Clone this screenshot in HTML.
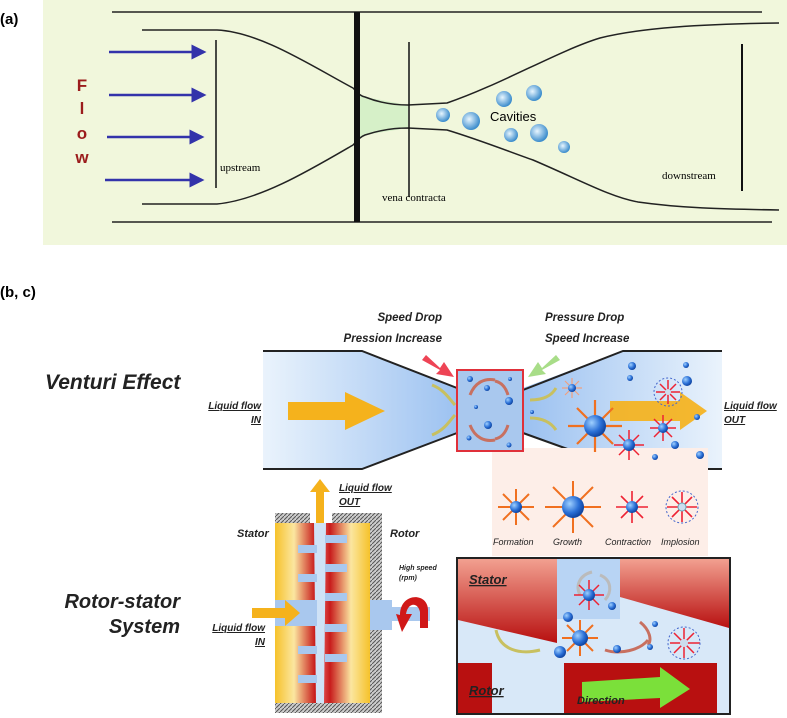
<!DOCTYPE html>
<html><head><meta charset="utf-8"><style>
body{margin:0;width:787px;height:718px;background:#fff;overflow:hidden}
svg{display:block}
text{font-family:"Liberation Sans",sans-serif}
</style></head><body>
<svg width="787" height="718" viewBox="0 0 787 718" xmlns="http://www.w3.org/2000/svg">
<defs>
<linearGradient id="pipe" x1="0" x2="1"><stop offset="0" stop-color="#eaf3fc"/><stop offset="0.45" stop-color="#98bff0"/><stop offset="0.55" stop-color="#98bff0"/><stop offset="1" stop-color="#eaf3fc"/></linearGradient>
<radialGradient id="bub" cx="0.35" cy="0.35" r="0.7"><stop offset="0" stop-color="#9fd0ff"/><stop offset="0.6" stop-color="#2a6fd6"/><stop offset="1" stop-color="#0c3f9a"/></radialGradient>
<radialGradient id="bub2" cx="0.4" cy="0.4" r="0.6"><stop offset="0" stop-color="#e8f6ff"/><stop offset="1" stop-color="#3b8ccc"/></radialGradient>
<linearGradient id="cyl" x1="0" x2="1"><stop offset="0" stop-color="#f6c22a"/><stop offset="0.2" stop-color="#fbe6a0"/><stop offset="0.42" stop-color="#c81c1c"/><stop offset="0.5" stop-color="#e05050"/><stop offset="0.58" stop-color="#c81c1c"/><stop offset="0.8" stop-color="#fbe6a0"/><stop offset="1" stop-color="#f6c22a"/></linearGradient>
<linearGradient id="red" x1="0" y1="0" x2="0" y2="1"><stop offset="0" stop-color="#f2a090"/><stop offset="1" stop-color="#b81010"/></linearGradient>
<pattern id="hatch" width="4" height="4" patternUnits="userSpaceOnUse"><rect width="4" height="4" fill="#ccc"/><path d="M0 4L4 0" stroke="#555" stroke-width="1"/></pattern>
<marker id="ah" markerWidth="6" markerHeight="6" refX="5" refY="3" orient="auto"><path d="M0,0L6,3L0,6z" fill="#3333aa"/></marker>
</defs>
<!-- panel a -->
<rect x="43" y="0" width="744" height="245" fill="#f1f7dc"/>
<text x="0" y="24" font-size="15" font-weight="bold">(a)</text>
<line x1="112" y1="12" x2="762" y2="12" stroke="#222" stroke-width="1.5"/>
<line x1="112" y1="222" x2="772" y2="222" stroke="#222" stroke-width="1.5"/>
<path d="M357 92 L365 97 L408 105 L408 128 L365 135 L357 140Z" fill="#d6f0c8"/>
<path d="M142 30 L217 30 C260 32 310 65 353 88 C358 93 360 96 365 97 C380 103 395 105 408 105 L447 103 C500 85 560 50 600 38 C640 28 700 24 779 23" fill="none" stroke="#222" stroke-width="1.5"/>
<path d="M142 204 L217 204 C260 200 310 170 353 145 C358 140 360 137 365 135 C380 130 395 128 408 128 L447 130 C480 140 510 152 533 160 C580 180 610 197 638 202 C680 208 720 209 779 210" fill="none" stroke="#222" stroke-width="1.5"/>
<rect x="354" y="12" width="6" height="210" fill="#111"/>
<line x1="216" y1="40" x2="216" y2="188" stroke="#111" stroke-width="1.5"/>
<line x1="409" y1="42" x2="409" y2="197" stroke="#111" stroke-width="1.5"/>
<line x1="742" y1="44" x2="742" y2="191" stroke="#111" stroke-width="2"/>
<g stroke="#3333aa" stroke-width="2.5" marker-end="url(#ah)">
<line x1="109" y1="52" x2="204" y2="52"/><line x1="109" y1="95" x2="204" y2="95"/><line x1="107" y1="137" x2="202" y2="137"/><line x1="105" y1="180" x2="202" y2="180"/></g>
<g fill="#9b1c1c" font-weight="bold" font-size="17" text-anchor="middle"><text x="82" y="91">F</text><text x="82" y="114">l</text><text x="82" y="139">o</text><text x="82" y="163">w</text></g>
<g font-size="11"><text x="220" y="171" style="font-family:'Liberation Serif',serif">upstream</text><text x="382" y="201" style="font-family:'Liberation Serif',serif">vena contracta</text><text x="662" y="179" style="font-family:'Liberation Serif',serif">downstream</text></g>
<text x="490" y="121" font-size="13">Cavities</text>
<g fill="url(#bub2)"><circle cx="443" cy="115" r="7"/><circle cx="471" cy="121" r="9"/><circle cx="504" cy="99" r="8"/><circle cx="534" cy="93" r="8"/><circle cx="511" cy="135" r="7"/><circle cx="539" cy="133" r="9"/><circle cx="564" cy="147" r="6"/></g>
<!-- panel b -->
<text x="0" y="297" font-size="15" font-weight="bold">(b, c)</text>
<path d="M263 351 L362 351 L457 388 L523 388 L623 351 L722 351 L722 469 L623 469 L523 433 L457 433 L362 469 L263 469Z" fill="url(#pipe)"/>
<path d="M263 351 L362 351 L457 388 M523 390 L623 351 L722 351 M263 469 L362 469 L457 433 M523 433 L623 469 L722 469" fill="none" stroke="#222" stroke-width="2"/>
<rect x="492" y="448" width="216" height="108" fill="#fdeee8"/>
<rect x="457" y="370" width="66" height="81" fill="#a9c8ee" stroke="#e0303a" stroke-width="2"/>
<g fill="none" stroke="#c87060" stroke-width="3"><path d="M470 395 C475 382 485 378 495 380"/><path d="M508 395 C505 385 500 382 495 381"/><path d="M470 425 C475 438 485 442 495 440"/><path d="M508 425 C505 435 500 438 495 439"/></g>
<g fill="none" stroke="#c8c060" stroke-width="3"><path d="M432 385 C445 390 450 400 455 405"/><path d="M432 435 C445 430 450 420 455 415"/><path d="M530 400 C545 400 552 395 556 388"/><path d="M530 418 C545 418 552 424 556 430"/></g>
<path d="M288 402 L345 402 L345 392 L385 411 L345 430 L345 420 L288 420Z" fill="#f5b21c"/>
<path d="M610 401 L680 401 L680 392 L707 411 L680 430 L680 421 L610 421Z" fill="#f5b21c" opacity="0.92"/>
<path d="M426 355 L440 368 L444 362 L454 377 L436 374 L440 370 L422 360Z" fill="#ee4455"/>
<path d="M556 355 L542 368 L538 362 L528 377 L546 374 L542 370 L560 360Z" fill="#a8dd88"/>
<g font-style="italic" font-weight="bold" font-size="11.5" fill="#222">
<text x="442" y="321" text-anchor="end">Speed Drop</text><text x="442" y="342" text-anchor="end">Pression Increase</text>
<text x="545" y="321">Pressure Drop</text><text x="545" y="342">Speed Increase</text>
<text x="261" y="409" text-anchor="end" text-decoration="underline" font-size="10">Liquid flow</text><text x="261" y="423" text-anchor="end" text-decoration="underline" font-size="10">IN</text>
<text x="724" y="409" text-decoration="underline" font-size="10">Liquid flow</text><text x="724" y="423" text-decoration="underline" font-size="10">OUT</text>
</g>
<text x="45" y="389" font-size="21" font-style="italic" font-weight="bold" fill="#222">Venturi Effect</text>
<g stroke="#f07020" stroke-width="2.2"><path d="M568 426h54M595 400v52M577 408l36 36M613 408l-36 36"/></g>
<g stroke="#f0a080" stroke-width="1.2"><path d="M562 388h20M572 378v20M565 381l14 14M579 381l-14 14"/></g>
<g stroke="#ee2233" stroke-width="1.5"><path d="M614 445h30M629 430v30M619 435l20 20M639 435l-20 20M650 428h26M663 415v26M654 419l18 18M672 419l-18 18M656 392h24M668 380v24M660 384l16 16M676 384l-16 16"/></g>
<circle cx="668" cy="392" r="14" fill="none" stroke="#4466cc" stroke-dasharray="2,2"/>
<g fill="url(#bub)"><circle cx="470" cy="379" r="3"/><circle cx="487" cy="388" r="3"/><circle cx="510" cy="379" r="2"/><circle cx="509" cy="401" r="4"/><circle cx="476" cy="407" r="2"/><circle cx="488" cy="425" r="4"/><circle cx="469" cy="438" r="2.5"/><circle cx="509" cy="445" r="2.5"/><circle cx="595" cy="426" r="11"/><circle cx="632" cy="366" r="4"/><circle cx="630" cy="378" r="3"/><circle cx="686" cy="365" r="3"/><circle cx="687" cy="381" r="5"/><circle cx="697" cy="417" r="3"/><circle cx="675" cy="445" r="4"/><circle cx="700" cy="455" r="4"/><circle cx="655" cy="457" r="3"/><circle cx="629" cy="445" r="6"/><circle cx="663" cy="428" r="5"/><circle cx="668" cy="392" r="3" fill="#cde"/><circle cx="572" cy="388" r="4"/><circle cx="532" cy="412" r="2"/></g>
<!-- lifecycle icons -->
<g stroke="#f07020" stroke-width="2"><path d="M498 507h36M516 489v36M503 494l26 26M529 494l-26 26M545 507h56M573 481v52M553 487l40 40M593 487l-40 40"/></g>
<g stroke="#ee2233" stroke-width="1.6"><path d="M616 507h32M632 491v32M621 496l22 22M643 496l-22 22M667 507h30M682 492v30M672 497l20 20M692 497l-20 20"/></g>
<circle cx="516" cy="507" r="6" fill="url(#bub)"/><circle cx="573" cy="507" r="11" fill="url(#bub)"/><circle cx="632" cy="507" r="6" fill="url(#bub)"/><circle cx="682" cy="507" r="4" fill="#cde" stroke="#6ab"/>
<circle cx="682" cy="507" r="16" fill="none" stroke="#4466cc" stroke-dasharray="2,2"/>
<g font-style="italic" font-size="9" fill="#222"><text x="493" y="545">Formation</text><text x="553" y="545">Growth</text><text x="605" y="545">Contraction</text><text x="661" y="545">Implosion</text></g>
<!-- rotor stator -->
<text x="180" y="608" font-size="20" font-style="italic" font-weight="bold" fill="#222" text-anchor="end">Rotor-stator</text>
<text x="180" y="633" font-size="20" font-style="italic" font-weight="bold" fill="#222" text-anchor="end">System</text>
<rect x="275" y="513" width="107" height="200" fill="url(#hatch)"/>
<rect x="275" y="523" width="95" height="180" fill="url(#cyl)"/>
<rect x="310" y="513" width="22" height="10" fill="#fff"/>
<path d="M314 523 L326 523 L324 703 L316 703Z" fill="#cfe2f6"/>
<g fill="#a9c8ee"><rect x="298" y="545" width="19" height="8"/><rect x="298" y="574" width="19" height="8"/><rect x="298" y="646" width="19" height="8"/><rect x="298" y="675" width="19" height="8"/><rect x="325" y="535" width="22" height="8"/><rect x="325" y="564" width="22" height="8"/><rect x="325" y="593" width="22" height="8"/><rect x="325" y="624" width="22" height="8"/><rect x="325" y="654" width="22" height="8"/><rect x="275" y="600" width="42" height="26"/><rect x="370" y="600" width="22" height="30"/><rect x="392" y="607" width="38" height="14"/></g>
<path d="M316 523 L316 492 L310 492 L320 479 L330 492 L324 492 L324 523Z" fill="#f5b21c"/>
<path d="M252 608 L285 608 L285 600 L300 613 L285 626 L285 618 L252 618Z" fill="#f5b21c"/>
<path d="M400 615 C400 592 428 592 428 610 L428 628 L420 628 L420 612 C418 602 408 602 406 614 L412 614 L402 632 L396 614Z" fill="#d01818"/>
<g font-style="italic" font-weight="bold" fill="#222"><text x="237" y="537" font-size="11">Stator</text><text x="390" y="537" font-size="11">Rotor</text>
<text x="339" y="491" font-size="10" text-decoration="underline">Liquid flow</text><text x="339" y="505" font-size="10" text-decoration="underline">OUT</text>
<text x="265" y="631" font-size="10" text-anchor="end" text-decoration="underline">Liquid flow</text><text x="265" y="645" text-anchor="end" font-size="10" text-decoration="underline">IN</text>
<text x="399" y="570" font-size="7">High speed</text><text x="399" y="580" font-size="7">(rpm)</text></g>
<!-- panel c -->
<rect x="457" y="558" width="273" height="156" fill="#d8e8f8" stroke="#222" stroke-width="2"/>
<path d="M458 559 L557 559 L557 643 L458 620Z" fill="url(#red)"/>
<path d="M620 559 L729 559 L729 628 L620 597Z" fill="url(#red)"/>
<rect x="557" y="559" width="63" height="60" fill="#b8d4f4"/>
<rect x="458" y="663" width="34" height="50" fill="#b81010"/>
<rect x="564" y="663" width="153" height="50" fill="#b81010"/>
<path d="M582 682 L660 677 L660 667 L690 689 L660 708 L660 698 L582 702Z" fill="#7be03a"/>
<g fill="none" stroke="#c8c060" stroke-width="3"><path d="M496 630 C500 650 520 655 540 650"/></g>
<g fill="none" stroke="#c87060" stroke-width="3"><path d="M605 650 C620 655 640 650 648 640"/><path d="M640 622 C650 630 652 640 648 645"/></g>
<g fill="none" stroke="#bbb" stroke-width="3"><path d="M580 595 C575 585 580 575 592 572"/><path d="M600 575 C612 580 612 592 605 600"/></g>
<g stroke="#ee2233" stroke-width="1.5"><path d="M574 595h30M589 580v30M579 585l20 20M599 585l-20 20M670 643h30M684 628v30M674 633l20 20M694 633l-20 20"/></g>
<g stroke="#f07020" stroke-width="2"><path d="M562 638h36M580 620v36M567 625l26 26M593 625l-26 26"/></g>
<g fill="url(#bub)"><circle cx="589" cy="595" r="6"/><circle cx="580" cy="638" r="8"/><circle cx="560" cy="652" r="6"/><circle cx="568" cy="617" r="5"/><circle cx="612" cy="606" r="4"/><circle cx="617" cy="649" r="4"/><circle cx="655" cy="624" r="3"/><circle cx="650" cy="647" r="3"/><circle cx="684" cy="643" r="4" fill="#cde"/></g>
<circle cx="684" cy="643" r="16" fill="none" stroke="#4466cc" stroke-dasharray="2,2"/>
<g font-style="italic" font-weight="bold" fill="#222"><text x="469" y="584" font-size="13" text-decoration="underline">Stator</text><text x="469" y="695" font-size="13" text-decoration="underline">Rotor</text><text x="577" y="704" font-size="11">Direction</text></g>
</svg>
</body></html>
